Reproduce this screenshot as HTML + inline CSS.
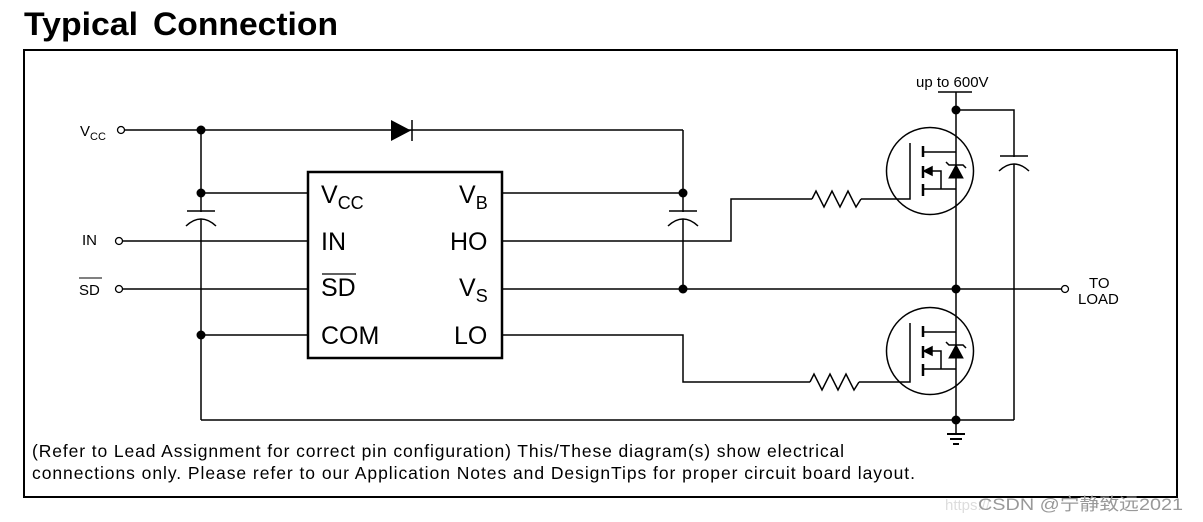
<!DOCTYPE html>
<html><head><meta charset="utf-8"><style>
body{margin:0;background:#fff;width:1203px;height:522px;overflow:hidden}
svg{display:block}
text{font-family:"Liberation Sans","Noto Sans CJK SC",sans-serif;fill:#000}
</style></head><body>
<svg width="1203" height="522" viewBox="0 0 1203 522" xmlns="http://www.w3.org/2000/svg">
<text x="24" y="35" font-size="32" font-weight="bold" textLength="114" lengthAdjust="spacingAndGlyphs">Typical</text>
<text x="153" y="35" font-size="32" font-weight="bold" textLength="185" lengthAdjust="spacingAndGlyphs">Connection</text>
<rect x="24" y="50" width="1153" height="447" fill="none" stroke="#000" stroke-width="2"/>
<g stroke="#000" stroke-width="1.5" fill="none">
<rect x="308" y="172" width="194" height="186" stroke-width="2.5"/>
<line x1="124" y1="130" x2="683" y2="130"/>
<line x1="683" y1="130" x2="683" y2="289"/>
<line x1="201" y1="130" x2="201" y2="420"/>
<line x1="201" y1="193" x2="308" y2="193"/>
<line x1="201" y1="335" x2="308" y2="335"/>
<line x1="122" y1="241" x2="308" y2="241"/>
<line x1="122" y1="289" x2="308" y2="289"/>
<line x1="201" y1="420" x2="1014" y2="420"/>
<line x1="502" y1="193" x2="683" y2="193"/>
<polyline points="502,241 731,241 731,199 812,199"/>
<polyline points="861,199 910,199 910,143"/>
<line x1="502" y1="289" x2="1062" y2="289"/>
<polyline points="502,335 683,335 683,382 810,382"/>
<polyline points="859,382 910,382 910,323"/>
<polyline points="812,199 816,191 824,207 832,191 840,207 848,191 856,207 861,199"/>
<polyline points="810,382 814,374 822,390 830,374 838,390 846,374 854,390 859,382"/>
<line x1="956" y1="92" x2="956" y2="420"/>
<line x1="938" y1="92" x2="972" y2="92"/>
<polyline points="956,110 1014,110 1014,420"/>
<circle cx="930" cy="171" r="43.5"/>
<circle cx="930" cy="351" r="43.5"/>
<line x1="956" y1="420" x2="956" y2="433"/>
</g>
<g stroke="#000" stroke-width="2">
<line x1="947" y1="434" x2="965" y2="434"/>
<line x1="950" y1="439" x2="962" y2="439"/>
<line x1="953" y1="444" x2="959" y2="444"/>
</g>
<g id="m" stroke="#000" stroke-width="1.5" fill="none">
<line x1="923" y1="146" x2="923" y2="157" stroke-width="2.5"/>
<line x1="923" y1="166" x2="923" y2="178" stroke-width="2.5"/>
<line x1="923" y1="184" x2="923" y2="196" stroke-width="2.5"/>
<line x1="923" y1="152" x2="956" y2="152"/>
<polyline points="930,171 941,171 941,189"/>
<line x1="923" y1="189" x2="956" y2="189"/>
<polygon points="924,171 932,167 932,175" fill="#000"/>
<polygon points="949,178 963,178 956,165" fill="#000" stroke-width="1"/>
<polyline points="946,162 949,165 963,165 966,168"/>
</g>
<use href="#m" transform="translate(0,180)"/>
<g stroke="#000" stroke-width="1.5" fill="#fff">
<rect x="188" y="212" width="26" height="14" stroke="none"/>
<line x1="187" y1="211" x2="215" y2="211"/>
<path d="M186,226 Q201,212 216,226" fill="none"/>
<line x1="201" y1="219" x2="201" y2="226" />
<rect x="670" y="212" width="26" height="14" stroke="none"/>
<line x1="669" y1="211" x2="697" y2="211"/>
<path d="M668,226 Q683,212 698,226" fill="none"/>
<line x1="683" y1="219" x2="683" y2="226"/>
<rect x="1001" y="157" width="26" height="14" stroke="none"/>
<line x1="1000" y1="156" x2="1028" y2="156"/>
<path d="M999,171 Q1014,157 1029,171" fill="none"/>
<line x1="1014" y1="164" x2="1014" y2="171"/>
</g>
<polygon points="391,120 391,141 411,130.5" fill="#000"/>
<line x1="412" y1="120" x2="412" y2="141" stroke="#000" stroke-width="1.5"/>
<g stroke="#000" stroke-width="1.3" fill="#fff">
<circle cx="121" cy="130" r="3.5"/>
<circle cx="119" cy="241" r="3.5"/>
<circle cx="119" cy="289" r="3.5"/>
<circle cx="1065" cy="289" r="3.5"/>
</g>
<g fill="#000">
<circle cx="201" cy="130" r="4.5"/><circle cx="201" cy="193" r="4.5"/><circle cx="201" cy="335" r="4.5"/>
<circle cx="683" cy="193" r="4.5"/><circle cx="683" cy="289" r="4.5"/>
<circle cx="956" cy="110" r="4.5"/><circle cx="956" cy="289" r="4.5"/><circle cx="956" cy="420" r="4.5"/>
</g>
<text x="80" y="136" font-size="15">V<tspan font-size="11" dy="4">CC</tspan></text>
<text x="82" y="245" font-size="15">IN</text>
<text x="79" y="295" font-size="15">SD</text>
<line x1="79" y1="278" x2="102" y2="278" stroke="#000" stroke-width="1"/>
<text x="321" y="203" font-size="25">V<tspan font-size="18" dy="6">CC</tspan></text>
<text x="321" y="250" font-size="25">IN</text>
<text x="321" y="296" font-size="25">SD</text>
<line x1="322" y1="274" x2="356" y2="274" stroke="#000" stroke-width="1.2"/>
<text x="321" y="344" font-size="25">COM</text>
<text x="459" y="203" font-size="25">V<tspan font-size="18" dy="6">B</tspan></text>
<text x="450" y="250" font-size="25">HO</text>
<text x="459" y="296" font-size="25">V<tspan font-size="18" dy="6">S</tspan></text>
<text x="454" y="344" font-size="25">LO</text>
<text x="916" y="87" font-size="15">up to 600V</text>
<text x="1089" y="288" font-size="15">TO</text>
<text x="1078" y="304" font-size="15">LOAD</text>
<text x="32" y="457" font-size="17.5" textLength="812" lengthAdjust="spacing">(Refer to Lead Assignment for correct pin configuration) This/These diagram(s) show electrical</text>
<text x="32" y="479" font-size="17.5" textLength="883" lengthAdjust="spacing">connections only.  Please refer to our Application Notes and DesignTips for proper circuit board layout.</text>
<text x="945" y="510" font-size="15" style="fill:#ddd">https://</text>
<text x="978" y="510" font-size="17" style="fill:#999" textLength="205" lengthAdjust="spacingAndGlyphs">CSDN @宁静致远2021</text>
</svg>
</body></html>
